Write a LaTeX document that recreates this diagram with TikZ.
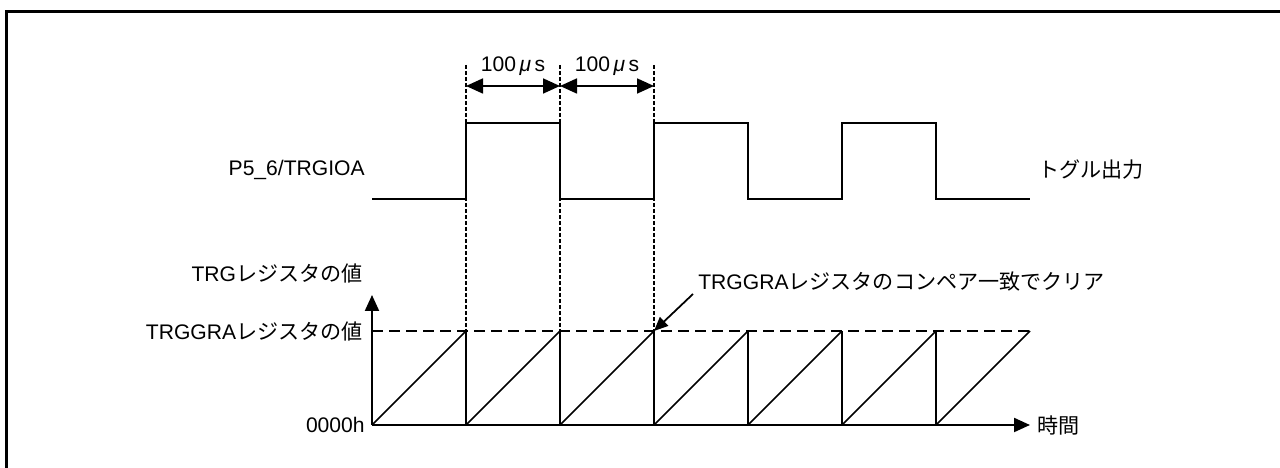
\documentclass[tikz,border=0pt]{standalone}
\usepackage{fontspec}
\setmainfont{Liberation Sans}
\newfontfamily\jp{Noto Sans CJK JP}
\usepackage{tikz}
\usetikzlibrary{arrows.meta}

\begin{document}
\begin{tikzpicture}[
  every node/.style={font=\fontsize{12pt}{14pt}\selectfont, inner sep=0pt},
  sig/.style={line width=1.3pt},
  ramp/.style={line width=1pt},
  guide/.style={line width=0.6pt, dash pattern=on 0.08cm off 0.04cm},
  level/.style={line width=1.4pt, dash pattern=on 0.22cm off 0.12cm},
  dim/.style={line width=1pt, {Triangle[length=0.34cm,width=0.3cm]}-{Triangle[length=0.34cm,width=0.3cm]}},
  axis/.style={line width=1.2pt, -{Triangle[length=0.32cm,width=0.28cm]}}
]
  \useasboundingbox (0,0) rectangle (25.6,9.36);

  % Frame
  \draw[line width=2pt] (0.13,0) -- (0.13,9.13) -- (25.6,9.13);

  % Time points
  \foreach \i in {0,...,7}
    \coordinate (t\i) at ({7.44+1.88*\i},0.86);
  \coordinate (gra) at (7.44,2.74);
  \coordinate (ytip) at (7.44,3.46);
  \coordinate (lo) at (7.44,5.38);
  \coordinate (hi) at (7.44,6.90);
  \coordinate (dimy) at (7.44,7.64);
  \coordinate (top) at (7.44,8.06);

  % Labels
  \node[anchor=east] (pin) at (7.30,5.96) {P5\_6/TRGIOA};
  \node[anchor=west] (toggle) at (20.76,5.96) {\jp トグル出力};
  \node[anchor=east] (trg) at (7.26,3.90) {TRG{\jp レジスタの値}};
  \node[anchor=east] (gralbl) at (7.26,2.74) {TRGGRA{\jp レジスタの値}};
  \node[anchor=east] (zero) at (7.30,0.86) {0000h};
  \node[anchor=west] (time) at (20.74,0.86) {\jp 時間};
  \node[anchor=west] (note) at (13.96,3.72) {TRGGRA{\jp レジスタのコンペア一致でクリア}};
  \node (us1) at (10.26,8.04) {100\,{\itshape μ}\,s};
  \node (us2) at (12.14,8.04) {100\,{\itshape μ}\,s};

  % Output signal
  \draw[sig] (t0 |- lo) -- (t1 |- lo) -- (t1 |- hi) -- (t2 |- hi) -- (t2 |- lo)
    -- (t3 |- lo) -- (t3 |- hi) -- (t4 |- hi) -- (t4 |- lo) -- (t5 |- lo)
    -- (t5 |- hi) -- (t6 |- hi) -- (t6 |- lo) -- (t7 |- lo);

  % Guides and widths
  \foreach \i in {1,2,3}
    \draw[guide] (t\i |- top) -- (t\i |- gra);
  \draw[dim] (t1 |- dimy) -- (t2 |- dimy);
  \draw[dim] (t2 |- dimy) -- (t3 |- dimy);

  % Counter
  \draw[level] (gra) -- (t7 |- gra);
  \foreach \i [evaluate=\i as \j using int(\i+1)] in {0,...,6}
    \draw[ramp] (t\i) -- (t\j |- gra);
  \foreach \i in {1,...,6}
    \draw[ramp] (t\i |- gra) -- (t\i);
  \draw[axis] (t0) -- (ytip);
  \draw[axis] (t0) -- (t7);

  % Compare match
  \coordinate (notetail) at (13.86,3.48);
  \draw[line width=1pt, -{Triangle[length=0.28cm,width=0.24cm]}] (notetail) -- (t3 |- gra);
\end{tikzpicture}
\end{document}
